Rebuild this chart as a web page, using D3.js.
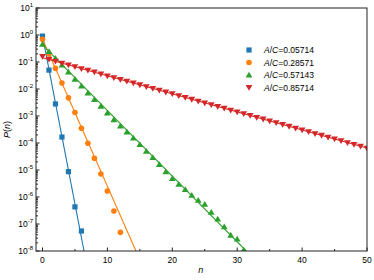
<!doctype html>
<html>
<head>
<meta charset="utf-8">
<title>P(n)</title>
<script src="https://cdnjs.cloudflare.com/ajax/libs/d3/7.8.5/d3.min.js"></script>
<style>
  body { margin: 0; background: #fff; }
  text { font-family: "Liberation Sans", Arial, sans-serif; fill: #000; }
</style>
</head>
<body>
<div id="chart"></div>
<script>
// series labels (A/C ratios)
const ratios = ["0.05714", "0.28571", "0.57143", "0.85714"];
const colors = ["#1f77b4", "#ff7f0e", "#2ca02c", "#d62728"];
const shapes = ["square", "circle", "triangle", "triangleDown"];

// simulated P(n), starting at n = 0
const blueP = [0.91, 0.050, 2.8e-3, 1.66e-4, 8.7e-6, 4.3e-7, 5.5e-8];
const orangeP = [0.69, 0.20, 0.058, 0.0166, 4.7e-3, 1.35e-3, 3.5e-4, 9.8e-5, 2.7e-5,
  7.1e-6, 1.66e-6, 3.0e-7, 4.9e-8];
const greenP = [0.457, 0.245, 0.138, 0.0776, 0.0427, 0.0234, 0.0129, 7.1e-3, 4.1e-3,
  2.34e-3, 1.29e-3, 7.4e-4, 4.3e-4, 2.57e-4, 1.55e-4, 8.9e-5, 5.0e-5, 2.9e-5, 1.62e-5,
  8.7e-6, 4.9e-6, 3.0e-6, 1.9e-6, 1.17e-6, 7.6e-7, 5.4e-7, 2.75e-7, 1.55e-7, 7.9e-8,
  3.9e-8, 2.8e-8, 1.1e-8];
const redP = [0.158, 0.125, 0.106, 0.089, 0.077, 0.066, 0.056, 0.049, 0.042, 0.0355,
  0.0302, 0.026, 0.0224, 0.0191, 0.0165, 0.0141, 0.0121, 0.0104, 0.0089, 0.0076,
  0.0066, 0.0056, 0.0048, 0.0041, 0.0035, 0.0030, 0.0026, 0.00224, 0.00191, 0.00163,
  0.0014, 0.0012, 0.00103, 8.8e-4, 7.6e-4, 6.5e-4, 5.6e-4, 4.8e-4, 4.1e-4, 3.5e-4,
  3.0e-4, 2.6e-4, 2.2e-4, 1.9e-4, 1.63e-4, 1.39e-4, 1.2e-4, 1.02e-4, 8.8e-5, 7.5e-5, 6.4e-5];

// theory lines, end points [n, P]
const blueLine = [[0, 0.94], [6.4, 1e-8]];
const orangeLine = [[0, 0.71], [14.4, 1e-8]];
const greenLine = [[0, 0.43], [31.4, 1e-8]];
const redLine = [[0, 0.143], [50, 6.5e-5]];

const xTicks = [0, 10, 20, 30, 40, 50];
const xMinor = [5, 15, 25, 35, 45];
const yExps = [1, 0, -1, -2, -3, -4, -5, -6, -7, -8];

const pointSets = [blueP, orangeP, greenP, redP];
const lineSets = [blueLine, orangeLine, greenLine, redLine];

const W = 374, H = 280;
const margin = {left: 36, right: 7, top: 8, bottom: 29};

const svg = d3.select("#chart").append("svg")
  .attr("width", W).attr("height", H);

const x = d3.scaleLinear().domain([-1, 50]).range([margin.left, W - margin.right]);
const y = d3.scaleLog().domain([1e-8, 10]).range([H - margin.bottom, margin.top]);

svg.append("clipPath").attr("id", "clip")
  .append("rect")
  .attr("x", margin.left).attr("y", margin.top)
  .attr("width", x.range()[1] - margin.left)
  .attr("height", y.range()[0] - margin.top);

const plot = svg.append("g").attr("clip-path", "url(#clip)");

// theory lines
const line = d3.line().x(d => x(d[0])).y(d => y(d[1]));
lineSets.forEach((pts, i) => {
  plot.append("path")
    .attr("d", line(pts))
    .attr("fill", "none")
    .attr("stroke", colors[i])
    .attr("stroke-width", 1.1);
});

// markers
function marker(g, shape, color, cx, cy) {
  if (shape === "square") {
    g.append("rect").attr("x", cx - 2.6).attr("y", cy - 2.6)
      .attr("width", 5.2).attr("height", 5.2).attr("fill", color);
  } else if (shape === "circle") {
    g.append("circle").attr("cx", cx).attr("cy", cy).attr("r", 2.8).attr("fill", color);
  } else if (shape === "triangle") {
    g.append("path").attr("d", `M${cx},${cy - 3.2}L${cx + 3.4},${cy + 2.6}L${cx - 3.4},${cy + 2.6}Z`)
      .attr("fill", color);
  } else {
    g.append("path").attr("d", `M${cx},${cy + 3.2}L${cx + 3.4},${cy - 2.6}L${cx - 3.4},${cy - 2.6}Z`)
      .attr("fill", color);
  }
}

pointSets.forEach((vals, i) => {
  vals.forEach((p, n) => marker(plot, shapes[i], colors[i], x(n), y(p)));
});

// frame
const ax = svg.append("g").attr("stroke", "#222").attr("fill", "none");
ax.append("rect")
  .attr("x", margin.left).attr("y", margin.top)
  .attr("width", x.range()[1] - margin.left)
  .attr("height", y.range()[0] - margin.top)
  .attr("stroke-width", 1);

const yb = y.range()[0];

// x ticks (inward)
xTicks.forEach(t => {
  ax.append("line").attr("x1", x(t)).attr("x2", x(t)).attr("y1", yb).attr("y2", yb - 3.5);
  svg.append("text").attr("x", x(t)).attr("y", yb + 12)
    .attr("text-anchor", "middle").style("font-size", "8.5px").text(t);
});
xMinor.forEach(t => {
  ax.append("line").attr("x1", x(t)).attr("x2", x(t)).attr("y1", yb).attr("y2", yb - 2);
});

// y ticks (inward)
yExps.forEach(e => {
  const yy = y(Math.pow(10, e));
  ax.append("line").attr("x1", margin.left).attr("x2", margin.left + 3.5).attr("y1", yy).attr("y2", yy);
  if (e > -8) {
    for (let k = 2; k < 10; k++) {
      const ym = y(k * Math.pow(10, e - 1));
      ax.append("line").attr("x1", margin.left).attr("x2", margin.left + 2).attr("y1", ym).attr("y2", ym);
    }
  }
  const t = svg.append("text").attr("x", 33).attr("y", yy + 3)
    .attr("text-anchor", "end").style("font-size", "8.5px");
  t.append("tspan").text("10");
  t.append("tspan").attr("dy", -4).style("font-size", "6px").text(e);
});

// axis titles
svg.append("text").attr("x", x(25) - 4).attr("y", 273)
  .attr("text-anchor", "middle").style("font-size", "9px").style("font-style", "italic").text("n");

const yt = svg.append("text")
  .attr("transform", `translate(10,${(margin.top + yb) / 2}) rotate(-90)`)
  .attr("text-anchor", "middle").style("font-size", "9px");
yt.append("tspan").style("font-style", "italic").text("P");
yt.append("tspan").text("(");
yt.append("tspan").style("font-style", "italic").text("n");
yt.append("tspan").text(")");

// legend
const leg = svg.append("g");
ratios.forEach((r, i) => {
  const ly = 50 + i * 12.5;
  marker(leg, shapes[i], colors[i], 249, ly);
  const t = leg.append("text").attr("x", 264).attr("y", ly + 3).style("font-size", "8.5px");
  t.append("tspan").style("font-style", "italic").text("A");
  t.append("tspan").text("/");
  t.append("tspan").style("font-style", "italic").text("C");
  t.append("tspan").text("=" + r);
});
</script>
</body>
</html>
